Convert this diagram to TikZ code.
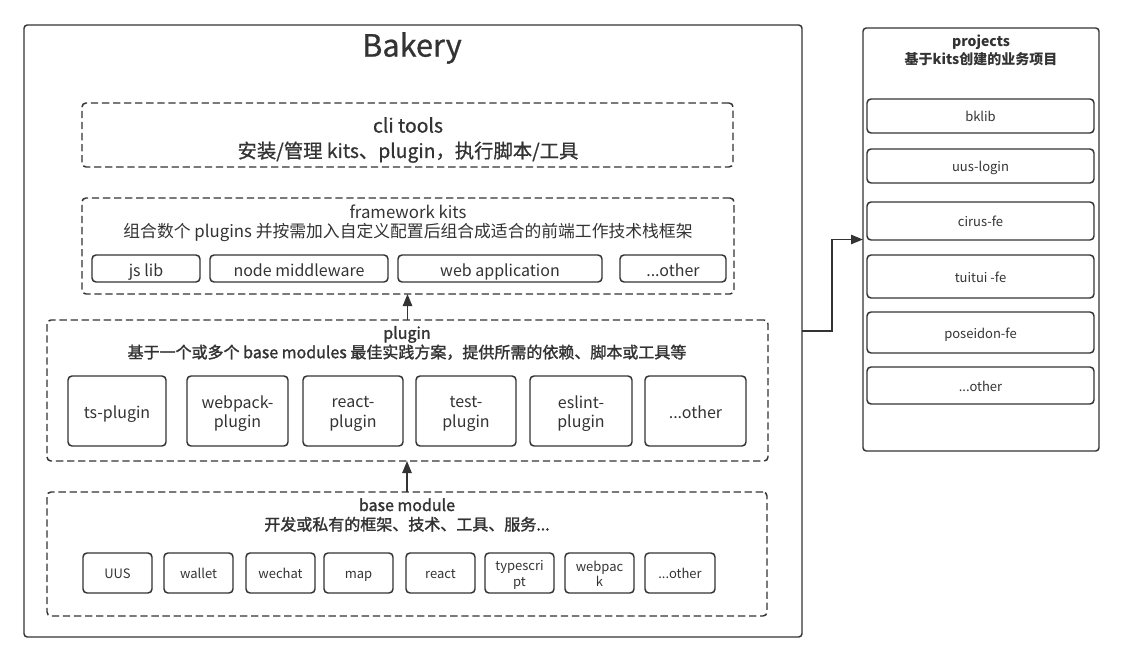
\documentclass[tikz,border=0pt]{standalone}
\usepackage{fontspec}
\setmainfont{Noto Sans CJK SC}
\newfontfamily\medfont{Noto Sans CJK SC}[FakeBold=1.6]
\newfontfamily\semifont{Noto Sans CJK SC}[FakeBold=0.8]
\usetikzlibrary{arrows.meta}
\definecolor{ink}{HTML}{333333}
% style, name, x1,y1,x2,y2, text style, text
\newcommand\boxat[8]{%
  \node[#1, minimum width={(#5-#3)*0.75pt}, minimum height={(#6-#4)*0.75pt}] (#2) at ({(#3+#5)/2},{(#4+#6)/2}) {};
  \node[#7] (#2-t) at (#2.center) {#8};}
% style, name, x1,y1,x2,y2 (box only)
\newcommand\panelat[6]{%
  \node[#1, minimum width={(#5-#3)*0.75pt}, minimum height={(#6-#4)*0.75pt}] (#2) at ({(#3+#5)/2},{(#4+#6)/2}) {};}
\begin{document}
\begin{tikzpicture}[x=0.75pt,y=-0.75pt,
  every node/.style={text=ink, inner sep=0pt, outer sep=0pt, align=center},
  solidbox/.style={draw=ink, line width=1.1pt, rounded corners=2.5pt},
  dashbox/.style={draw=ink, line width=1.1pt, rounded corners=3pt, dash pattern=on 5.5pt off 2.8pt},
  itembox/.style={draw=ink, line width=1.1pt, rounded corners=3pt},
  strutted/.style={execute at begin node=\strut, execute at end node=\strut},
  big/.style={font=\fontsize{12}{14.5}\selectfont, strutted, yshift=-2.8pt},
  small/.style={font=\fontsize{9.75}{11.5}\selectfont, strutted, yshift=-2.1pt},
  arr/.style={draw=ink, line width=1.1pt, -{Triangle[length=9pt,width=7pt]}}]
\useasboundingbox (0,0) rectangle (1124,663);

% Bakery
\panelat{solidbox}{bakery}{24}{25}{802}{637}
\node[font=\semifont\fontsize{23}{26}\selectfont] (bakery-t) at (412,48) {Bakery};

% cli tools
\panelat{dashbox}{cli}{82}{103}{733}{167}
\node[font=\semifont\fontsize{14.5}{19}\selectfont] (cli-t) at (408,140) {cli tools\\安装/管理 kits、plugin，执行脚本/工具};

% framework kits
\panelat{dashbox}{fw}{82}{198}{734}{294}
\node[font=\fontsize{12.6}{14.5}\selectfont] (fw-t) at (408,223) {framework kits\\组合数个 plugins 并按需加入自定义配置后组合成适合的前端工作技术栈框架};
\boxat{itembox}{jslib}{92}{255}{200}{282}{big}{js lib}
\boxat{itembox}{nodemw}{210}{255}{388}{282}{big}{node middleware}
\boxat{itembox}{webapp}{398}{255}{602}{282}{big}{web application}
\boxat{itembox}{fwother}{620}{255}{726}{282}{big}{...other}

% plugin
\panelat{dashbox}{plugin}{47}{320}{768}{461}
\node[font=\medfont\fontsize{12}{14.5}\selectfont] (plugin-t) at (407,343) {plugin\\基于一个或多个 base modules 最佳实践方案，提供所需的依赖、脚本或工具等};
\boxat{itembox}{tsp}{68}{376}{166}{446}{big}{ts-plugin}
\boxat{itembox}{wpp}{187}{376}{288}{446}{big}{webpack-\\plugin}
\boxat{itembox}{rp}{303}{376}{403}{446}{big}{react-\\plugin}
\boxat{itembox}{tp}{416}{376}{516}{446}{big}{test-\\plugin}
\boxat{itembox}{ep}{530}{376}{632}{446}{big}{eslint-\\plugin}
\boxat{itembox}{pother}{645}{376}{746}{446}{big}{...other}

% base module
\panelat{dashbox}{base}{47}{492}{767}{616}
\node[font=\medfont\fontsize{12}{14.5}\selectfont] (base-t) at (407,515) {base module\\开发或私有的框架、技术、工具、服务...};
\boxat{itembox}{uus}{83}{553}{152}{593}{small}{UUS}
\boxat{itembox}{wallet}{164}{553}{233}{593}{small}{wallet}
\boxat{itembox}{wechat}{246}{553}{315}{593}{small}{wechat}
\boxat{itembox}{map}{324}{553}{393}{593}{small}{map}
\boxat{itembox}{react}{406}{553}{475}{593}{small}{react}
\boxat{itembox}{ts}{485}{553}{554}{593}{small}{typescri\\pt}
\boxat{itembox}{wp}{565}{553}{634}{593}{small}{webpac\\k}
\boxat{itembox}{bother}{645}{553}{715}{593}{small}{...other}

% projects
\panelat{solidbox}{proj}{863}{28}{1099}{451}
\node[font=\bfseries\fontsize{10.5}{14}\selectfont] (proj-t) at (981,50.5) {projects\\基于kits创建的业务项目};
\boxat{itembox}{bklib}{867}{99}{1094}{133}{small}{bklib}
\boxat{itembox}{uuslogin}{867}{149}{1094}{183}{small}{uus-login}
\boxat{itembox}{cirus}{867}{202}{1094}{240}{small}{cirus-fe}
\boxat{itembox}{tuitui}{867}{255}{1094}{298}{small}{tuitui -fe}
\boxat{itembox}{poseidon}{867}{312}{1094}{353}{small}{poseidon-fe}
\boxat{itembox}{projother}{867}{367}{1094}{404}{small}{...other}

% connectors
\draw[arr] (plugin.north) -- (plugin.north |- fw.south);
\draw[arr] (base.north) -- (base.north |- plugin.south);
\draw[arr] (bakery.east) -- ++(30,0) |- (proj.west);
\end{tikzpicture}
\end{document}
